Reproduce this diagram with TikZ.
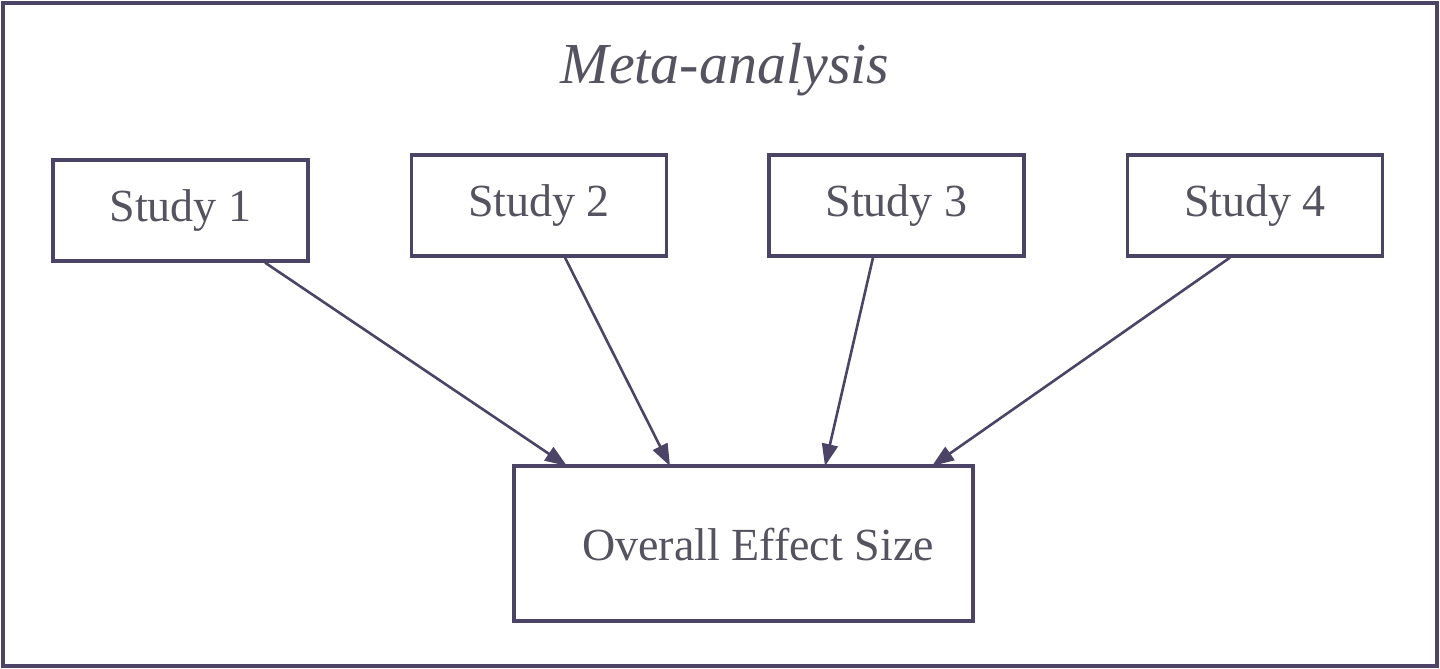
\documentclass[tikz,border=0pt]{standalone}
\usepackage{fontspec}
\setmainfont{Liberation Serif}
\usetikzlibrary{arrows.meta}
\definecolor{frame}{HTML}{4B4466}
\definecolor{txt}{HTML}{55535F}
\tikzset{
  study/.style={draw=frame, line width=1.6pt, minimum width=127.5pt, minimum height=50.5pt, text=txt, font=\fontsize{23}{27}\selectfont},
  flow/.style={draw=frame, line width=1.3pt, -{Triangle[length=11pt,width=8pt]}},
}
\begin{document}
\begin{tikzpicture}[x=0.5pt,y=-0.5pt]%
	\useasboundingbox (0,0) rectangle (1440,669);
	\draw[frame, line width=2pt] (3,3) rectangle (1437,666);
	\node[text=txt, font=\itshape\fontsize{29}{34}\selectfont] (title) at (725,70) {Meta-analysis};
	\node[study] (s1) at (180.5,210.5) {Study 1};
	\node[study] (s2) at (539,205.5) {Study 2};
	\node[study] (s3) at (896.5,205.5) {Study 3};
	\node[study] (s4) at (1255,205.5) {Study 4};
	\node[study, minimum width=229.5pt, minimum height=77.5pt] (all) at (743.5,543.5) {};
	\node[text=txt, font=\fontsize{23}{27}\selectfont] (alltext) at (758,545) {Overall Effect Size};
	\coordinate (e1) at (567,466);
	\coordinate (e2) at (670,466);
	\coordinate (e3) at (825,466);
	\coordinate (e4) at (932,466);
	\draw[flow] (s1.south -| 265,0) -- (e1);
	\draw[flow] (s2.south -| 565,0) -- (e2);
	\draw[flow] (s3.south -| 873,0) -- (e3);
	\draw[flow] (s4.south -| 1230,0) -- (e4);
\end{tikzpicture}
\end{document}
